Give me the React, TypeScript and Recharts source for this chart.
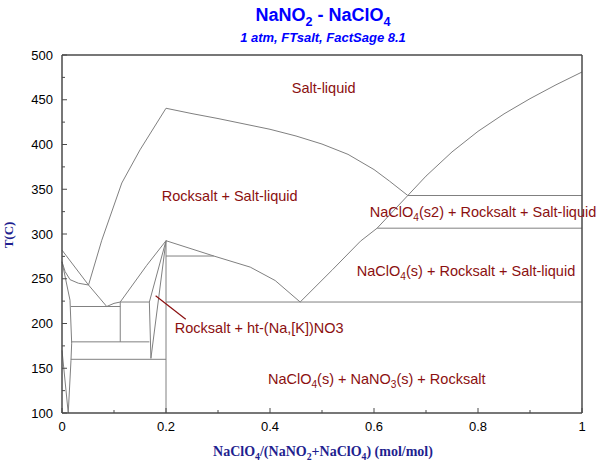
import { ComposedChart, Line, Scatter, XAxis, YAxis } from 'recharts';

const AXIS = '#4a4a4a';
const GREY = '#808080';
const RED = '#8b1010';
const BLUE = '#0000ff';
const NAVY = '#1f1f8f';
const SANS = "Arial, 'Liberation Sans', sans-serif";
const SERIF = "'Times New Roman', 'Liberation Serif', serif";

const xTicks = [0, 0.1, 0.2, 0.3, 0.4, 0.5, 0.6, 0.7, 0.8, 0.9, 1];
const yTicks = [100, 125, 150, 175, 200, 225, 250, 275, 300, 325, 350, 375, 400, 425, 450, 475, 500];

// phase boundaries: x = NaClO4 mole fraction, T in °C
const nitriteLiquidus = [{ x: 0, T: 282 }, { x: 0.051, T: 243 }];
const nitriteSolidus = [
  { x: 0, T: 269 }, { x: 0.006, T: 258 }, { x: 0.0155, T: 249 }, { x: 0.0315, T: 245 }, { x: 0.051, T: 243 },
];
const leftSolvus = [
  { x: 0, T: 269 }, { x: 0.0154, T: 226 }, { x: 0.0186, T: 178 }, { x: 0.0173, T: 159 }, { x: 0.012, T: 100 },
];
const leftLow = [{ x: 0, T: 170 }, { x: 0.012, T: 100 }];
const eutecticDip = [{ x: 0.051, T: 243 }, { x: 0.086, T: 219 }];
const dipBump = [{ x: 0.086, T: 219 }, { x: 0.1, T: 222.5 }, { x: 0.112, T: 224 }];
const rocksaltLiquidus = [{ x: 0.112, T: 224 }, { x: 0.163, T: 265 }, { x: 0.2, T: 292.5 }];
const rocksaltUpper = [
  { x: 0.051, T: 243 }, { x: 0.0765, T: 293 }, { x: 0.115, T: 357 }, { x: 0.15, T: 394 }, { x: 0.2, T: 440.5 },
];
const topLiquidus = [
  { x: 0.2, T: 440.5 }, { x: 0.25, T: 434.5 }, { x: 0.3, T: 429 }, { x: 0.35, T: 423 }, { x: 0.4, T: 417 },
  { x: 0.45, T: 409.5 }, { x: 0.5, T: 400.5 }, { x: 0.55, T: 389 }, { x: 0.6, T: 372 }, { x: 0.63, T: 359 },
  { x: 0.665, T: 343 },
];
const perchlorateLiquidus = [
  { x: 0.458, T: 224 }, { x: 0.52, T: 260 }, { x: 0.574, T: 292 }, { x: 0.606, T: 306.5 }, { x: 0.665, T: 343 },
  { x: 0.7, T: 364.7 }, { x: 0.75, T: 391.7 }, { x: 0.8, T: 414.7 }, { x: 0.85, T: 434.2 }, { x: 0.9, T: 451.2 },
  { x: 0.95, T: 466.7 }, { x: 1, T: 481 },
];
const lowerCurve = [
  { x: 0.2, T: 292.5 }, { x: 0.292, T: 275.4 }, { x: 0.362, T: 263 }, { x: 0.41, T: 248 }, { x: 0.458, T: 224 },
];
const lensLeft = [{ x: 0.2, T: 292.5 }, { x: 0.168, T: 224 }, { x: 0.171, T: 161 }];
const lensRight = [{ x: 0.2, T: 292.5 }, { x: 0.171, T: 161 }];
const h275 = [{ x: 0.2, T: 275.4 }, { x: 0.292, T: 275.4 }];
const h224a = [{ x: 0.112, T: 224 }, { x: 0.168, T: 224 }];
const h224b = [{ x: 0.2, T: 224 }, { x: 1, T: 224 }];
const h343 = [{ x: 0.665, T: 343 }, { x: 1, T: 343 }];
const h307 = [{ x: 0.606, T: 306.5 }, { x: 1, T: 306.5 }];
const h219 = [{ x: 0.017, T: 219 }, { x: 0.112, T: 219 }];
const h179 = [{ x: 0.018, T: 179.5 }, { x: 0.168, T: 179.5 }];
const h160 = [{ x: 0.017, T: 160 }, { x: 0.2, T: 160 }];
const v0112 = [{ x: 0.112, T: 224 }, { x: 0.112, T: 179.5 }];
const v02 = [{ x: 0.2, T: 292.5 }, { x: 0.2, T: 100 }];

const boundaries = [
  nitriteLiquidus, nitriteSolidus, leftSolvus, leftLow, eutecticDip, dipBump, rocksaltLiquidus, rocksaltUpper,
  topLiquidus, perchlorateLiquidus, lowerCurve, lensLeft, lensRight, h275, h224a, h224b, h343, h307, h219,
  h179, h160, v0112, v02,
];

const pointer = [{ x: 0.18, T: 231 }, { x: 0.238, T: 204.7 }];

const regionLabels = [
  { x: 0.442, T: 457.5, text: 'Salt-liquid' },
  { x: 0.192, T: 337, text: 'Rocksalt + Salt-liquid' },
  { x: 0.592, T: 319, text: 'NaClO_4(s2) + Rocksalt + Salt-liquid' },
  { x: 0.567, T: 253, text: 'NaClO_4(s) + Rocksalt + Salt-liquid' },
  { x: 0.217, T: 189.4, text: 'Rocksalt + ht-(Na,[K])NO3' },
  { x: 0.396, T: 132.4, text: 'NaClO_4(s) + NaNO_3(s) + Rocksalt' },
];

function withSubs(text: string, size: number) {
  const parts = text.split(/_(\d)/);
  return parts.map((p, i) =>
    i % 2 === 1 ? (
      <tspan key={i} dy={size * 0.25} fontSize={size * 0.7}>{p}</tspan>
    ) : (
      <tspan key={i} dy={i > 0 ? -size * 0.25 : 0}>{p}</tspan>
    )
  );
}

const fmtX = (v: number) => (v === 0 ? '0' : v === 1 ? '1' : v.toFixed(1));

function BottomTick({ x, y, payload }: any) {
  const v = payload.value;
  const major = Math.round(v * 10) % 2 === 0;
  return (
    <g>
      <line x1={x} x2={x} y1={y} y2={y - (major ? 5 : 3)} stroke={AXIS} />
      {major && (
        <text x={x} y={y + 18} textAnchor="middle" fontSize={13} fill="#000" fontFamily={SANS}>
          {fmtX(v)}
        </text>
      )}
    </g>
  );
}

function TopTick({ x, y, payload }: any) {
  const major = Math.round(payload.value * 10) % 2 === 0;
  return <line x1={x} x2={x} y1={y} y2={y + (major ? 5 : 3)} stroke={AXIS} />;
}

function LeftTick({ x, y, payload }: any) {
  const v = payload.value;
  const major = v % 50 === 0;
  return (
    <g>
      <line x1={x} x2={x + (major ? 5 : 3)} y1={y} y2={y} stroke={AXIS} />
      {major && (
        <text x={x - 9} y={y + 4.5} textAnchor="end" fontSize={13} fill="#000" fontFamily={SANS}>
          {v}
        </text>
      )}
    </g>
  );
}

function RightTick({ x, y, payload }: any) {
  const major = payload.value % 50 === 0;
  return <line x1={x} x2={x - (major ? 5 : 3)} y1={y} y2={y} stroke={AXIS} />;
}

function RegionLabel({ cx, cy, payload }: any) {
  return (
    <text x={cx} y={cy} fontSize={14.5} fill={RED} fontFamily={SANS}>
      {withSubs(payload.text, 14.5)}
    </text>
  );
}

export default function App() {
  return (
    <div style={{ position: 'absolute', left: 0, top: 0, width: 600, height: 463, background: '#fff' }}>
      <ComposedChart width={600} height={463} margin={{ top: 0, right: 0, bottom: 0, left: 0 }}>
        <XAxis
          dataKey="x"
          type="number"
          domain={[0, 1]}
          ticks={xTicks}
          interval={0}
          height={50}
          tickSize={0}
          tickMargin={0}
          tickLine={false}
          tick={<BottomTick />}
          axisLine={{ stroke: AXIS, strokeWidth: 1.5 }}
        />
        <XAxis
          xAxisId="top"
          orientation="top"
          dataKey="x"
          type="number"
          domain={[0, 1]}
          ticks={xTicks}
          interval={0}
          height={55}
          tickSize={0}
          tickMargin={0}
          tickLine={false}
          tick={<TopTick />}
          axisLine={{ stroke: AXIS, strokeWidth: 1.5 }}
        />
        <YAxis
          dataKey="T"
          type="number"
          domain={[100, 500]}
          ticks={yTicks}
          interval={0}
          width={62}
          tickSize={0}
          tickMargin={0}
          tickLine={false}
          tick={<LeftTick />}
          axisLine={{ stroke: AXIS, strokeWidth: 1.5 }}
        />
        <YAxis
          yAxisId="right"
          orientation="right"
          dataKey="T"
          type="number"
          domain={[100, 500]}
          ticks={yTicks}
          interval={0}
          width={18}
          tickSize={0}
          tickMargin={0}
          tickLine={false}
          tick={<RightTick />}
          axisLine={{ stroke: AXIS, strokeWidth: 1.5 }}
        />
        {boundaries.map((seg, i) => (
          <Line
            key={i}
            data={seg}
            dataKey="T"
            type="linear"
            stroke={GREY}
            strokeWidth={1}
            dot={false}
            activeDot={false}
            isAnimationActive={false}
          />
        ))}
        <Line
          data={pointer}
          dataKey="T"
          type="linear"
          stroke={RED}
          strokeWidth={1.2}
          dot={false}
          activeDot={false}
          isAnimationActive={false}
        />
        <Scatter data={regionLabels} dataKey="T" shape={<RegionLabel />} isAnimationActive={false} />
      </ComposedChart>
      <svg width={600} height={463} style={{ position: 'absolute', left: 0, top: 0, pointerEvents: 'none' }}>
        <text x={323} y={21} textAnchor="middle" fontSize={18} fontWeight="bold" fill={BLUE} fontFamily={SANS}>
          {withSubs('NaNO_2 - NaClO_4', 18)}
        </text>
        <text x={323} y={42} textAnchor="middle" fontSize={13} fontWeight="bold" fontStyle="italic" fill={BLUE} fontFamily={SANS}>
          1 atm, FTsalt, FactSage 8.1
        </text>
        <text x={323} y={456} textAnchor="middle" fontSize={14} fontWeight="bold" fill={NAVY} fontFamily={SERIF}>
          {withSubs('NaClO_4/(NaNO_2+NaClO_4) (mol/mol)', 14)}
        </text>
        <text x={13} y={235} textAnchor="middle" fontSize={13} fontWeight="bold" fill={NAVY} fontFamily={SERIF} transform="rotate(-90, 13, 235)">
          T(C)
        </text>
      </svg>
    </div>
  );
}
